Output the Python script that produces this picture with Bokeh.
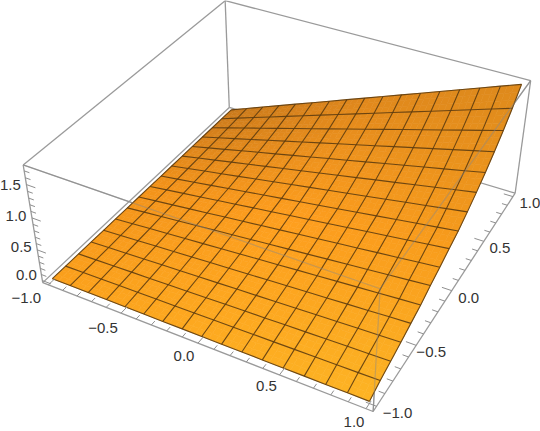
import numpy as np
from bokeh.plotting import figure
from bokeh.embed import file_html
from bokeh.resources import INLINE
from bokeh.core.properties import value

# ---- data ----
mesh_x = [-1 + i / 8 for i in range(17)]
mesh_y = [-1 + i / 8 for i in range(17)]
# rows: y index, columns: x index
surface_z = [
 [0]*17,
 [0,.005,.010,.015,.020,.025,.030,.035,.040,.045,.050,.055,.060,.065,.070,.075,.080],
 [0,.009,.018,.027,.036,.045,.054,.063,.073,.082,.091,.100,.109,.118,.127,.136,.145],
 [0,.013,.026,.039,.053,.066,.079,.092,.105,.118,.131,.144,.158,.171,.184,.197,.210],
 [0,.018,.035,.053,.070,.088,.105,.123,.140,.158,.175,.193,.210,.228,.245,.263,.280],
 [0,.022,.044,.066,.088,.109,.131,.153,.175,.197,.219,.241,.263,.284,.306,.328,.350],
 [0,.028,.055,.083,.110,.138,.165,.193,.220,.248,.275,.303,.330,.358,.385,.413,.440],
 [0,.033,.065,.098,.130,.163,.195,.228,.260,.293,.325,.358,.390,.423,.455,.488,.520],
 [0,.038,.076,.114,.153,.191,.229,.267,.305,.343,.381,.419,.458,.496,.534,.572,.610],
 [0,.043,.086,.129,.173,.216,.259,.302,.345,.388,.431,.474,.518,.561,.604,.647,.690],
 [0,.050,.100,.150,.200,.250,.300,.350,.400,.450,.500,.550,.600,.650,.700,.750,.800],
 [0,.058,.115,.173,.230,.288,.345,.403,.460,.518,.575,.633,.690,.748,.805,.863,.920],
 [0,.066,.131,.197,.263,.328,.394,.459,.525,.591,.656,.722,.788,.853,.919,.984,1.050],
 [0,.075,.150,.225,.300,.375,.450,.525,.600,.675,.750,.825,.900,.975,1.050,1.125,1.200],
 [0,.085,.170,.255,.340,.425,.510,.595,.680,.765,.850,.935,1.020,1.105,1.190,1.275,1.360],
 [0,.096,.193,.289,.385,.481,.578,.674,.770,.866,.963,1.059,1.155,1.251,1.348,1.444,1.540],
 [0,.109,.219,.328,.438,.547,.656,.766,.875,.984,1.094,1.203,1.313,1.422,1.531,1.641,1.750],
]
x_ticks = [-1.0, -0.5, 0.0, 0.5, 1.0]
y_ticks = [-1.0, -0.5, 0.0, 0.5, 1.0]
z_ticks = [0.0, 0.5, 1.0, 1.5]
minor_step = 0.1
box_x = (-1.04, 1.04)
box_y = (-1.04, 1.04)
box_z = (-0.035, 1.785)
# shading of the surface, rows y=-1,0,1, columns x=-1,0,1
shade = [["#FBA01C", "#FDAA20", "#FDB424"],
         ["#F2921A", "#FE9E1E", "#F89C1C"],
         ["#C8781B", "#E0881C", "#DE8A1C"]]
# camera (world -> screen pixels)
CAM = np.array([[132.11396, 107.89261, -11.12138, 289.52004],
                [37.62449, -69.93855, -67.92765, 233.26845],
                [-0.05228, 0.09749, -0.03784, 1.0]])
# label nudges from the projected tick, in pixels
x_label_dx = [-22, -18, -14, -13, -12]
x_label_dy = [13, 15, 13, 11, 13]
y_label_dx = [21, 15, 17, 16, 17]
y_label_dy = [7, 7, 7, 7, 6]
z_label_dx = [-16, -16, -16, -16]
z_label_dy = [-6, -3, -2, 0]

def proj(x, y, z):
    x, y, z = (np.asarray(v, float) for v in (x, y, z))
    h = CAM @ np.array([x, y, z, np.ones_like(x)])
    return (h[0] / h[2]).tolist(), (h[1] / h[2]).tolist()

def fmt(v):
    return f"{v:.1f}".replace("-", "\u2212")

p = figure(width=540, height=431, x_range=(0, 540), y_range=(431, 0),
           toolbar_location=None, output_backend="svg", min_border=0)
p.axis.visible = False
p.grid.visible = False
p.outline_line_color = None

BOX = "#9a9a9a"
x0, x1 = box_x; y0, y1 = box_y; z0, z1 = box_z
back_edges = [((x0,y0,z0),(x1,y0,z0)), ((x1,y0,z0),(x1,y1,z0)), ((x1,y1,z0),(x0,y1,z0)), ((x0,y1,z0),(x0,y0,z0)),
              ((x0,y0,z0),(x0,y0,z1)), ((x1,y1,z0),(x1,y1,z1)), ((x0,y1,z0),(x0,y1,z1)),
              ((x0,y0,z1),(x0,y1,z1)), ((x0,y1,z1),(x1,y1,z1))]
front_edges = [((x1,y0,z0),(x1,y0,z1)), ((x1,y0,z1),(x0,y0,z1)), ((x1,y0,z1),(x1,y1,z1))]

def seg_lists(segs):
    xs, ys = [], []
    for a, b in segs:
        X, Y = proj(*zip(a, b))
        xs.append(X); ys.append(Y)
    return xs, ys

xs, ys = seg_lists(back_edges + front_edges)
p.multi_line(xs, ys, line_color=BOX, line_width=1.3)

# surface
Z = np.array(surface_z, float)
mx = np.array(mesh_x); my = np.array(mesh_y)
C = np.array([[[int(c[k:k+2], 16) for k in (1, 3, 5)] for c in row] for row in shade], float)

def colour(x, y):
    u = min((x + 1), 1.9999); v = min((y + 1), 1.9999)
    iu, iv = int(u), int(v)
    fu, fv = u - iu, v - iv
    c = (C[iv, iu]*(1-fu)*(1-fv) + C[iv, iu+1]*fu*(1-fv) + C[iv+1, iu]*(1-fu)*fv + C[iv+1, iu+1]*fu*fv)
    return "#%02x%02x%02x" % tuple(int(round(t)) for t in c)

SUB = 3
px, py, pc = [], [], []
for j in range(16):
    for i in range(16):
        for a in range(SUB):
            for b in range(SUB):
                us = np.array([a, a+1, a+1, a]) / SUB
                vs = np.array([b, b, b+1, b+1]) / SUB
                xq = mx[i] + us*(mx[i+1]-mx[i])
                yq = my[j] + vs*(my[j+1]-my[j])
                zq = Z[j,i]*(1-us)*(1-vs) + Z[j,i+1]*us*(1-vs) + Z[j+1,i]*(1-us)*vs + Z[j+1,i+1]*us*vs
                X, Y = proj(xq, yq, zq)
                px.append(X); py.append(Y); pc.append(colour(xq.mean(), yq.mean()))
p.patches(px, py, fill_color=pc, line_color=pc, line_width=0.6)

# mesh
xs, ys = [], []
for i in range(17):
    X, Y = proj(mx, [my[i]]*17, Z[i, :]); xs.append(X); ys.append(Y)
    X, Y = proj([mx[i]]*17, my, Z[:, i]); xs.append(X); ys.append(Y)
p.multi_line(xs, ys, line_color="#5e3c0e", line_width=1.1, line_alpha=0.9)

# front box edges seen faintly over the surface
xs, ys = seg_lists(front_edges)
p.multi_line(xs, ys, line_color="#8a8a8a", line_width=1.2, line_alpha=0.45)

# ticks
tick_segs = []
def ticks(vals, major, point, direction):
    for v in vals:
        L = 0.06 if any(abs(v-m) < 1e-6 for m in major) else 0.035
        a = point(v)
        b = tuple(a[k] + L*direction[k] for k in range(3))
        tick_segs.append((a, b))
txv = [round(-1 + k*minor_step, 1) for k in range(21)]
tzv = [round(k*minor_step, 1) for k in range(18)]
ticks(txv, x_ticks, lambda v: (v, y0, z0), (0, 1, 0))
ticks(txv, y_ticks, lambda v: (x1, v, z0), (-1, 0, 0))
ticks(tzv, z_ticks, lambda v: (x0, y0, v), (1, 0, 0))
xs, ys = seg_lists(tick_segs)
p.multi_line(xs, ys, line_color="#8f8f8f", line_width=1)

# labels
def labels(vals, point, dx, dy):
    X, Y = proj(*zip(*[point(v) for v in vals]))
    p.text([a+d for a, d in zip(X, dx)], [b+d for b, d in zip(Y, dy)], text=[fmt(v) for v in vals],
           text_font=value("Liberation Sans"), text_font_size="15px", text_color="#333333",
           text_align="center", text_baseline="middle")
labels(x_ticks, lambda v: (v, y0, z0), x_label_dx, x_label_dy)
labels(y_ticks, lambda v: (x1, v, z0), y_label_dx, y_label_dy)
labels(z_ticks, lambda v: (x0, y0, v), z_label_dx, z_label_dy)

open("out.html", "w").write(file_html(p, INLINE))
